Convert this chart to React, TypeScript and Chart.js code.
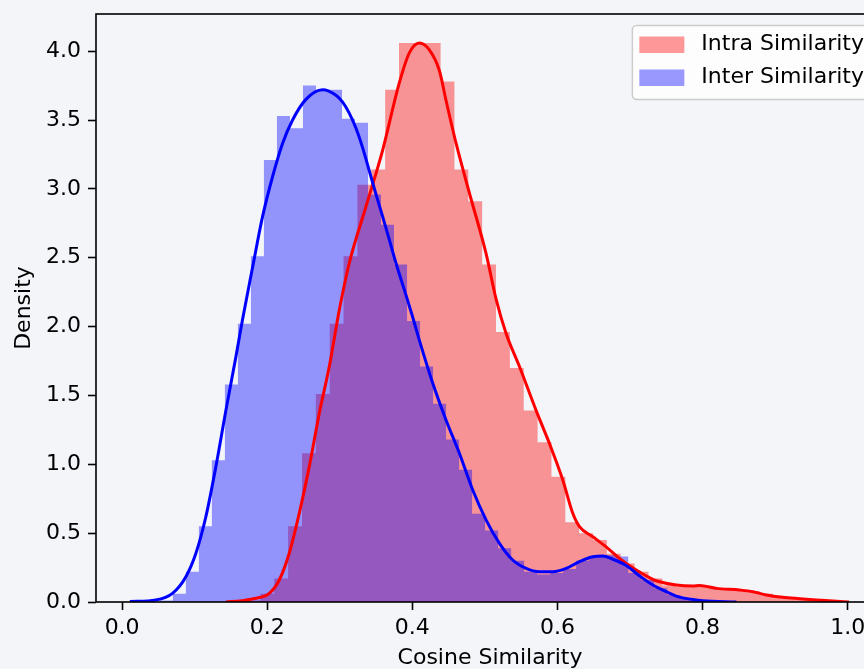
import React, { useEffect, useRef } from "react";
import { Chart, registerables } from "chart.js";

Chart.register(...registerables);

// ---------- data ----------
const seriesNames = ["Intra Similarity", "Inter Similarity"];
const xTickValues = [0.0, 0.2, 0.4, 0.6, 0.8, 1.0];
const yTickValues = [0.0, 0.5, 1.0, 1.5, 2.0, 2.5, 3.0, 3.5, 4.0];

// histogram (density) for intra similarity
const intraBinStart = 0.1715;
const intraBinWidth = 0.0191;
const intraDensity = [
  0.01, 0.06, 0.17, 0.55, 1.08, 1.51, 2.02, 2.51, 3.03, 3.14, 3.72, 4.06, 4.06, 4.06,
  3.78, 3.14, 2.91, 2.45, 1.96, 1.7, 1.39, 1.16, 0.91, 0.58, 0.5, 0.45, 0.35, 0.28,
  0.22, 0.17, 0.12, 0.11, 0.11, 0.11, 0.1, 0.09, 0.08, 0.06, 0.04, 0.03, 0.02, 0.015, 0.01,
];

// histogram (density) for inter similarity
const interBinStart = 0.052;
const interBinWidth = 0.01793;
const interDensity = [
  0.01, 0.06, 0.22, 0.55, 1.03, 1.58, 2.02, 2.51, 3.21, 3.53, 3.44, 3.75, 3.72, 3.72,
  3.51, 3.48, 2.96, 2.74, 2.45, 2.04, 1.71, 1.44, 1.18, 0.96, 0.64, 0.52, 0.39, 0.3,
  0.22, 0.2, 0.21, 0.24, 0.3, 0.33, 0.34, 0.33, 0.21, 0.16, 0.1, 0.05, 0.03, 0.015, 0.005, 0.003,
];

// KDE curves
const intraKdeX = [
  0.143, 0.165, 0.1845, 0.2028, 0.2166, 0.2303, 0.2441, 0.2579, 0.2717, 0.2855, 0.2993,
  0.313, 0.336, 0.359, 0.382, 0.396, 0.4097, 0.4234, 0.4372, 0.4465, 0.4603, 0.4786,
  0.5016, 0.5154, 0.5292, 0.5476, 0.5706, 0.589, 0.6073, 0.6211, 0.6303, 0.6487, 0.667,
  0.6855, 0.7085, 0.7314, 0.7407, 0.7637, 0.7867, 0.7959, 0.8189, 0.851, 0.8694, 0.8878,
  0.9108, 0.9338, 0.9568, 0.9798, 1.0018,
];
const intraKdeY = [
  0.0, 0.01, 0.027, 0.063, 0.16, 0.354, 0.644, 0.983, 1.37, 1.71, 2.12,
  2.46, 2.87, 3.28, 3.77, 3.99, 4.06, 4.01, 3.86, 3.64, 3.33, 2.97,
  2.53, 2.2, 1.95, 1.71, 1.39, 1.15, 0.886, 0.644, 0.547, 0.474, 0.4,
  0.317, 0.232, 0.165, 0.147, 0.123, 0.116, 0.12, 0.099, 0.087, 0.075, 0.051,
  0.034, 0.024, 0.015, 0.008, 0.0,
];

const interKdeX = [
  0.0106, 0.0464, 0.0694, 0.0879, 0.1017, 0.1154, 0.1292, 0.143, 0.1568, 0.1659, 0.1798,
  0.1936, 0.2074, 0.2211, 0.2349, 0.2533, 0.2763, 0.2947, 0.3039, 0.313, 0.3223, 0.3314,
  0.3407, 0.3499, 0.359, 0.3683, 0.3775, 0.3935, 0.4004, 0.4097, 0.428, 0.4465, 0.4648,
  0.4832, 0.5017, 0.52, 0.5383, 0.5568, 0.5752, 0.5935, 0.612, 0.6303, 0.6487, 0.6625,
  0.6763, 0.6947, 0.713, 0.7314, 0.75, 0.7683, 0.7867, 0.8, 0.8465,
];
const interKdeY = [
  0.003, 0.015, 0.063, 0.184, 0.354, 0.619, 0.982, 1.39, 1.78, 2.05, 2.43,
  2.8, 3.09, 3.33, 3.5, 3.65, 3.72, 3.68, 3.63, 3.55, 3.44, 3.3,
  3.13, 2.96, 2.8, 2.63, 2.46, 2.19, 2.07, 1.9, 1.59, 1.32, 1.08,
  0.813, 0.595, 0.426, 0.305, 0.244, 0.22, 0.22, 0.244, 0.293, 0.329, 0.334,
  0.31, 0.265, 0.19, 0.123, 0.075, 0.035, 0.018, 0.01, 0.0,
];

// ---------- styling ----------
const BG = "rgb(243,245,249)";
const FONT = "'DejaVu Sans', 'Liberation Sans', sans-serif";
const FONT_SIZE = 22;
const RED_FILL = "rgba(255,0,0,0.4)";
const BLUE_FILL = "rgba(0,0,255,0.4)";

function histPoints(start: number, width: number, dens: number[]) {
  const pts = dens.map((d, i) => ({ x: start + i * width, y: d }));
  pts.push({ x: start + dens.length * width, y: dens[dens.length - 1] });
  return pts;
}

function curvePoints(xs: number[], ys: number[]) {
  return xs.map((x, i) => ({ x, y: ys[i] }));
}

const bgPlugin = {
  id: "bgPlugin",
  beforeDraw(chart: any) {
    const ctx = chart.ctx;
    ctx.save();
    ctx.fillStyle = BG;
    ctx.fillRect(0, 0, chart.width, chart.height);
    ctx.restore();
  },
};

const framePlugin = {
  id: "framePlugin",
  afterDatasetsDraw(chart: any) {
    const { ctx, chartArea } = chart;
    ctx.save();
    ctx.strokeStyle = "#000";
    ctx.lineWidth = 1.6;
    ctx.strokeRect(chartArea.left, chartArea.top, chartArea.right - chartArea.left, chartArea.bottom - chartArea.top);
    ctx.restore();
  },
};

const legendPlugin = {
  id: "mplLegend",
  afterDraw(chart: any) {
    const { ctx, chartArea } = chart;
    ctx.save();
    ctx.font = `${FONT_SIZE}px ${FONT}`;
    const colors = [RED_FILL, BLUE_FILL];
    const textW = Math.max(...seriesNames.map((s) => ctx.measureText(s).width));
    const width = 69 + textW + 9;
    const height = 74;
    const right = chartArea.right - 11;
    const top = chartArea.top + 11.5;
    const left = right - width;
    const r = 4.4;
    ctx.beginPath();
    ctx.moveTo(left + r, top);
    ctx.lineTo(right - r, top);
    ctx.arcTo(right, top, right, top + r, r);
    ctx.lineTo(right, top + height - r);
    ctx.arcTo(right, top + height, right - r, top + height, r);
    ctx.lineTo(left + r, top + height);
    ctx.arcTo(left, top + height, left, top + height - r, r);
    ctx.lineTo(left, top + r);
    ctx.arcTo(left, top, left + r, top, r);
    ctx.closePath();
    ctx.fillStyle = "rgba(255,255,255,0.8)";
    ctx.fill();
    ctx.strokeStyle = "#cccccc";
    ctx.lineWidth = 1.5;
    ctx.stroke();
    seriesNames.forEach((name, i) => {
      const cy = top + 19 + i * 33;
      ctx.fillStyle = colors[i];
      ctx.fillRect(left + 7, cy - 8, 45, 16.5);
      ctx.fillStyle = "#000";
      ctx.textBaseline = "middle";
      ctx.textAlign = "left";
      ctx.fillText(name, left + 69, cy);
    });
    ctx.restore();
  },
};

export default function App() {
  const canvasRef = useRef<HTMLCanvasElement | null>(null);

  useEffect(() => {
    if (!canvasRef.current) return;
    const tickFont = { family: FONT, size: FONT_SIZE };
    const chart = new Chart(canvasRef.current, {
      type: "line",
      data: {
        datasets: [
          {
            label: seriesNames[0],
            data: histPoints(intraBinStart, intraBinWidth, intraDensity),
            stepped: true,
            fill: "origin",
            backgroundColor: RED_FILL,
            borderColor: "rgba(0,0,0,0)",
            borderWidth: 1,
            pointRadius: 0,
            order: 4,
          },
          {
            label: seriesNames[1],
            data: histPoints(interBinStart, interBinWidth, interDensity),
            stepped: true,
            fill: "origin",
            backgroundColor: BLUE_FILL,
            borderColor: "rgba(0,0,0,0)",
            borderWidth: 1,
            pointRadius: 0,
            order: 3,
          },
          {
            label: seriesNames[0] + " KDE",
            data: curvePoints(intraKdeX, intraKdeY),
            borderColor: "#ff0000",
            borderWidth: 3,
            pointRadius: 0,
            fill: false,
            cubicInterpolationMode: "monotone",
            order: 2,
          },
          {
            label: seriesNames[1] + " KDE",
            data: curvePoints(interKdeX, interKdeY),
            borderColor: "#0000ff",
            borderWidth: 3,
            pointRadius: 0,
            fill: false,
            cubicInterpolationMode: "monotone",
            order: 1,
          },
        ],
      },
      options: {
        animation: false,
        responsive: true,
        maintainAspectRatio: false,
        devicePixelRatio: 1,
        layout: { padding: { left: 0, top: 14, right: 16, bottom: 0 } },
        plugins: {
          legend: { display: false },
          tooltip: { enabled: false },
        },
        scales: {
          x: {
            type: "linear",
            min: -0.036,
            max: 1.05,
            afterBuildTicks: (scale: any) => {
              scale.ticks = xTickValues.map((v) => ({ value: v }));
            },
            afterFit: (scale: any) => {
              scale.height = 67;
              scale.paddingLeft = 0;
              scale.paddingRight = 0;
            },
            ticks: {
              color: "#000",
              font: tickFont,
              padding: 5,
              maxRotation: 0,
              autoSkip: false,
              callback: (v: any) => Number(v).toFixed(1),
            },
            grid: {
              drawOnChartArea: false,
              drawTicks: true,
              tickLength: 8,
              tickWidth: 1.6,
              tickColor: "#000",
            },
            border: { display: false },
            title: {
              display: true,
              text: "Cosine Similarity",
              color: "#000",
              font: tickFont,
              padding: { top: 0, bottom: -2 },
            },
          },
          y: {
            type: "linear",
            min: 0,
            max: 4.27,
            afterBuildTicks: (scale: any) => {
              scale.ticks = yTickValues.map((v) => ({ value: v }));
            },
            afterFit: (scale: any) => {
              scale.width = 96;
              scale.paddingTop = 0;
              scale.paddingBottom = 0;
            },
            ticks: {
              color: "#000",
              font: tickFont,
              padding: 7,
              autoSkip: false,
              callback: (v: any) => Number(v).toFixed(1),
            },
            grid: {
              drawOnChartArea: false,
              drawTicks: true,
              tickLength: 8,
              tickWidth: 1.6,
              tickColor: "#000",
            },
            border: { display: false },
            title: {
              display: true,
              text: "Density",
              color: "#000",
              font: tickFont,
              padding: { top: 11, bottom: 0 },
            },
          },
        },
      },
      plugins: [bgPlugin, framePlugin, legendPlugin],
    } as any);
    return () => chart.destroy();
  }, []);

  return (
    <div
      style={{
        position: "fixed",
        left: 0,
        top: 0,
        width: 864,
        height: 669,
        overflow: "hidden",
        background: BG,
      }}
    >
      <div style={{ position: "relative", width: 900, height: 669 }}>
        <canvas ref={canvasRef} />
      </div>
    </div>
  );
}
